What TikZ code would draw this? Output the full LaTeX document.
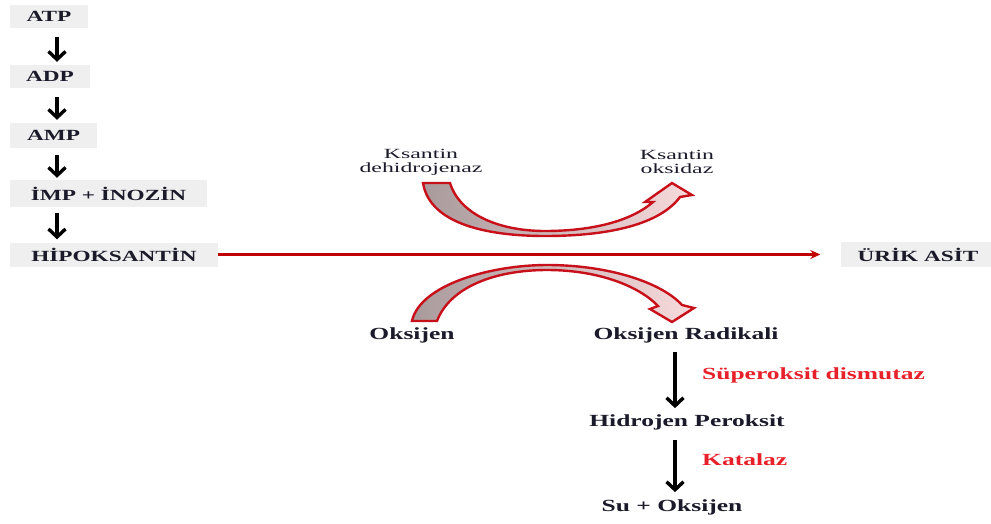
\documentclass[tikz,border=0pt]{standalone}
\usepackage{fontspec}
\setmainfont{Liberation Serif}
\newfontfamily\wideA[FakeStretch=1.5]{Liberation Serif}
\newfontfamily\wideB[FakeStretch=1.7]{Liberation Serif}
\usetikzlibrary{arrows.meta}
\definecolor{boxgray}{HTML}{EFEFEF}
\definecolor{darkred}{HTML}{C00000}
\definecolor{brightred}{HTML}{E8202A}
\definecolor{arrowred}{HTML}{C8101A}
\definecolor{tailgray}{HTML}{A89A9C}
\definecolor{headpink}{HTML}{F8DADC}
\definecolor{inktext}{HTML}{1A1A2A}
\tikzset{
  graybox/.style={fill=boxgray, inner sep=0pt, text=inktext, font=\wideA\bfseries\fontsize{15.5}{18}\selectfont},
  lbl/.style={inner sep=0pt, text=inktext, font=\wideA\bfseries\fontsize{17}{19}\selectfont},
  redlbl/.style={lbl, text=brightred},
  enz/.style={inner sep=0pt, align=center, text=inktext, font=\wideB\fontsize{14}{14}\selectfont},
  blkarrow/.style={draw=black, line width=3.4pt, -{Straight Barb[length=8pt,width=17pt]}},
  redline/.style={draw=darkred, line width=3.6pt, -{Stealth[length=10pt,width=9pt]}},
  blockarrow/.style={draw=arrowred, line width=2.4pt, line join=miter, left color=tailgray, right color=headpink},
}
\begin{document}
\begin{tikzpicture}[x=1pt,y=-1pt]
\useasboundingbox (0,0) rectangle (991,523);
% left column
\node[graybox, minimum width=78pt, minimum height=23pt] (atp) at (49,16.5) {ATP};
\node[graybox, minimum width=80pt, minimum height=23pt] (adp) at (50,76.5) {ADP};
\node[graybox, minimum width=87pt, minimum height=25pt] (amp) at (53.5,135.5) {AMP};
\node[graybox, minimum width=197pt, minimum height=27pt] (imp) at (108.5,193.5) {İMP + İNOZİN};
\node[graybox, minimum width=208pt, minimum height=24pt] (hipo) at (114,254.5) {HİPOKSANTİN};
\node[graybox, minimum width=155pt, minimum height=25pt] (urik) at (918,254.5) {ÜRİK ASİT};
\coordinate (ax) at (57,0);
\draw[blkarrow, shorten <=9pt, shorten >=3pt] (atp.south -| ax) -- (adp.north -| ax);
\draw[blkarrow, shorten <=9pt, shorten >=3pt] (adp.south -| ax) -- (amp.north -| ax);
\draw[blkarrow, shorten <=7pt, shorten >=2pt] (amp.south -| ax) -- (imp.north -| ax);
\draw[blkarrow, shorten <=6pt, shorten >=3pt] (imp.south -| ax) -- (hipo.north -| ax);
% main reaction line
\draw[redline, shorten >=20pt] (hipo.east) -- (urik.west);
% enzymes
\node[enz] (ksdh) at (421,162) {Ksantin\\dehidrojenaz};
\node[enz] (ksox) at (677,162) {Ksantin\\oksidaz};
% curved block arrows
\draw[blockarrow] (423,183) .. controls (430,225) and (490,236) .. (545,236)
  .. controls (610,236) and (660,224) .. (680,197) -- (692,195) -- (672,183)
  -- (645,202) -- (653,202) .. controls (630,222) and (590,231) .. (545,231)
  .. controls (500,231) and (460,215) .. (450,183) -- cycle;
\draw[blockarrow] (412,321) .. controls (420,285) and (490,265) .. (547,265)
  .. controls (610,265) and (662,283) .. (682,305) -- (694,308) -- (672,322)
  -- (650,309) -- (658,306) .. controls (640,287) and (600,270) .. (547,270)
  .. controls (495,270) and (450,287) .. (437,321) -- cycle;
% lower labels
\node[lbl] (oks) at (412,335) {Oksijen};
\node[lbl] (rad) at (686,335) {Oksijen Radikali};
\node[lbl] (h2o2) at (687,422) {Hidrojen Peroksit};
\node[lbl] (su) at (672,507) {Su + Oksijen};
\node[redlbl, anchor=west] (sod) at (702,375) {Süperoksit dismutaz};
\node[redlbl, anchor=west] (kat) at (702,460) {Katalaz};
\coordinate (dx) at (675,0);
\draw[blkarrow, shorten <=9pt, shorten >=6pt] (rad.south -| dx) -- (h2o2.north -| dx);
\draw[blkarrow, shorten <=10pt, shorten >=7pt] (h2o2.south -| dx) -- (su.north -| dx);
\end{tikzpicture}
\end{document}
